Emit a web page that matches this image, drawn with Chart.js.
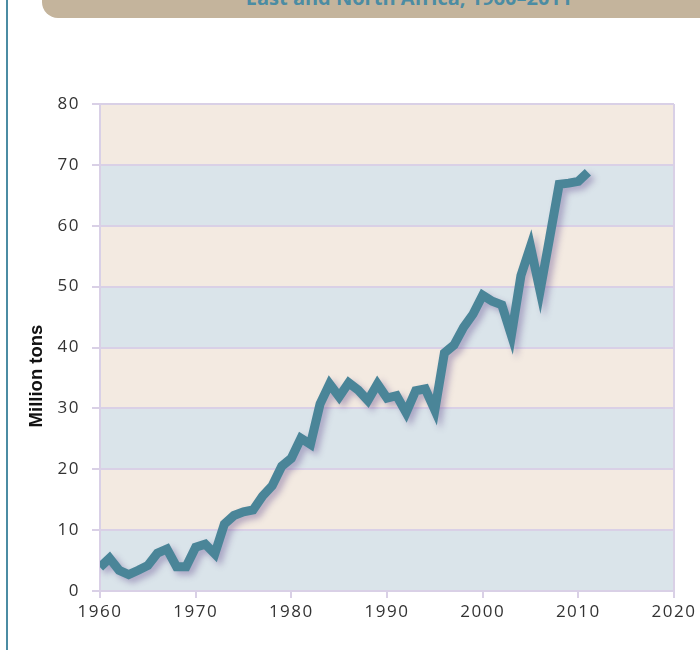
<!DOCTYPE html>
<html>
<head>
<meta charset="utf-8">
<script src="https://cdn.jsdelivr.net/npm/chart.js@4"></script>
<style>
  html, body { margin: 0; padding: 0; background: #fff; }
  #page { position: relative; width: 700px; height: 650px; overflow: hidden; background: #fff; }
  #sideRule { position: absolute; left: 6px; top: 0; width: 2px; height: 650px; background: #4b8ca3; }
  #header {
    position: absolute; left: 42px; top: 0; width: 660px; height: 18px;
    background: #c4b49c; border-bottom-left-radius: 16px; overflow: hidden;
  }
  #header span {
    position: absolute; left: 0; width: 660px; top: -12px; text-align: center;
    font: bold 20px "Open Sans", sans-serif; line-height: 20px; color: #4b8ca3;
    padding-left: 74px; box-sizing: border-box; white-space: nowrap;
  }
  #yTitle {
    position: absolute; left: 36px; top: 376px; width: 200px; margin-left: -100px;
    text-align: center; transform: translateY(-50%) rotate(-90deg);
    font: bold 18.5px "Liberation Sans", Arial, sans-serif; line-height: 22px; color: #111;
  }
  #chartBox { position: absolute; left: 0; top: 0; width: 700px; height: 650px; }
</style>
</head>
<body>
<div id="page">
  <div id="sideRule"></div>
  <div id="header"><span>East and North Africa, 1960–2011</span></div>
  <div id="chartBox"><canvas id="chart" width="700" height="650"></canvas></div>
  <div id="yTitle">Million tons</div>
</div>
<script>
// --- Données ---
const years = [
  1960, 1961, 1962, 1963, 1964, 1965, 1966, 1967, 1968, 1969,
  1970, 1971, 1972, 1973, 1974, 1975, 1976, 1977, 1978, 1979,
  1980, 1981, 1982, 1983, 1984, 1985, 1986, 1987, 1988, 1989,
  1990, 1991, 1992, 1993, 1994, 1995, 1996, 1997, 1998, 1999,
  2000, 2001, 2002, 2003, 2004, 2005, 2006, 2007, 2008, 2009,
  2010, 2011
];
const millionTons = [
  3.9, 5.4, 3.4, 2.7, 3.4, 4.2, 6.2, 6.9, 4.0, 4.0,
  7.2, 7.7, 6.1, 11.0, 12.4, 13.0, 13.3, 15.6, 17.3, 20.5,
  21.8, 25.1, 24.1, 30.7, 34.0, 31.9, 34.2, 33.0, 31.3, 34.0,
  31.7, 32.1, 29.3, 32.9, 33.2, 29.7, 39.1, 40.4, 43.3, 45.5,
  48.6, 47.6, 47.0, 42.0, 51.8, 56.6, 49.3, 58.0, 66.8, 67.0,
  67.3, 68.8
];
const xTicks = [1960, 1970, 1980, 1990, 2000, 2010, 2020];
const yTicks = [0, 10, 20, 30, 40, 50, 60, 70, 80];

const lavender = '#d9d0e6';
const bandBlue = '#dae4ea';
const bandTan = '#f3eae1';

// --- Bandes de fond + bord droit ---
const bandsPlugin = {
  id: 'bands',
  beforeDraw(chart) {
    const { ctx, chartArea: a, scales: { y } } = chart;
    ctx.save();
    for (let i = 0; i < yTicks.length - 1; i++) {
      const top = y.getPixelForValue(yTicks[i + 1]);
      const bot = y.getPixelForValue(yTicks[i]);
      ctx.fillStyle = i % 2 === 0 ? bandBlue : bandTan;
      ctx.fillRect(a.left, top, a.right - a.left, bot - top);
    }
    ctx.restore();
  },
  afterDraw(chart) {
    const { ctx, chartArea: a } = chart;
    ctx.save();
    ctx.strokeStyle = lavender;
    ctx.lineWidth = 2;
    ctx.beginPath();
    ctx.moveTo(a.right, a.top);
    ctx.lineTo(a.right, a.bottom);
    ctx.stroke();
    ctx.restore();
    ctx.letterSpacing = '0px';
  }
};

// --- Ombre de la ligne ---
const shadowPlugin = {
  id: 'lineShadow',
  beforeDatasetDraw(chart) {
    const ctx = chart.ctx;
    ctx.save();
    ctx.shadowColor = 'rgba(110, 90, 150, 0.45)';
    ctx.shadowBlur = 6;
    ctx.shadowOffsetX = 4;
    ctx.shadowOffsetY = 4;
  },
  afterDatasetDraw(chart) {
    chart.ctx.restore();
  },
  // les étiquettes (z:1) sont dessinées après les données : on espace les chiffres
  afterDatasetsDraw(chart) {
    chart.ctx.letterSpacing = '1.5px';
  }
};

const tickFont = { family: '"Open Sans", sans-serif', size: 17 };

new Chart(document.getElementById('chart'), {
  type: 'line',
  data: {
    datasets: [{
      data: years.map((yr, i) => ({ x: yr, y: millionTons[i] })),
      borderColor: '#4a8598',
      borderWidth: 9,
      borderJoinStyle: 'miter',
      borderCapStyle: 'butt',
      pointRadius: 0,
      tension: 0,
      fill: false
    }]
  },
  options: {
    responsive: false,
    animation: false,
    layout: { padding: { left: 23, top: 104, right: 26, bottom: 0 } },
    plugins: { legend: { display: false }, tooltip: { enabled: false } },
    scales: {
      x: {
        type: 'linear',
        min: 1960,
        max: 2020,
        afterBuildTicks(scale) { scale.ticks = xTicks.map(v => ({ value: v })); },
        afterFit(scale) { scale.height = 59; },
        ticks: { font: tickFont, color: '#333', padding: 4, z: 1, callback: v => String(v) },
        grid: { drawOnChartArea: false, drawTicks: true, tickLength: 7, color: lavender, lineWidth: 2 },
        border: { color: lavender, width: 2 }
      },
      y: {
        min: 0,
        max: 80,
        afterBuildTicks(scale) { scale.ticks = yTicks.map(v => ({ value: v })); },
        afterFit(scale) { scale.width = 77; },
        ticks: { font: tickFont, color: '#333', padding: 12, z: 1 },
        grid: { color: lavender, lineWidth: 2, tickLength: 8 },
        border: { color: lavender, width: 2 }
      }
    }
  },
  plugins: [bandsPlugin, shadowPlugin]
});
</script>
</body>
</html>
